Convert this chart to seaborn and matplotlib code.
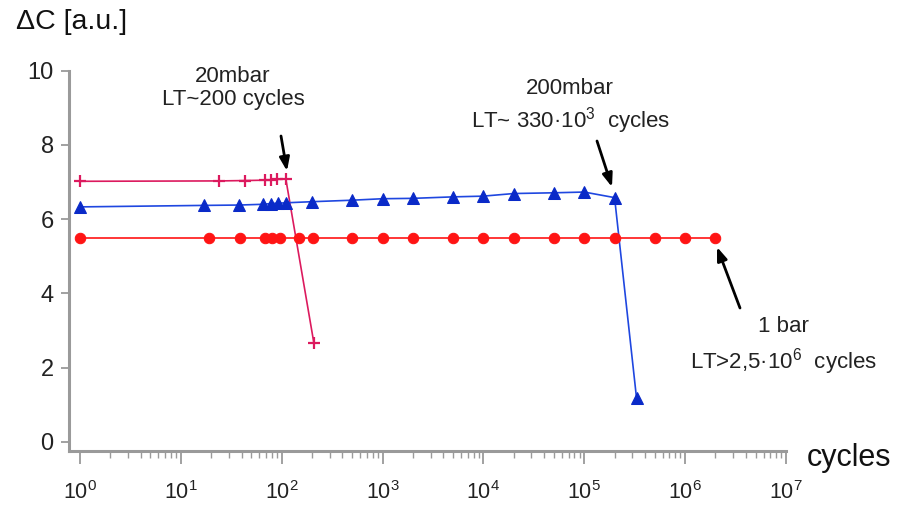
import numpy as np
import pandas as pd
import matplotlib
matplotlib.use("Agg")
import matplotlib.pyplot as plt
import seaborn as sns
from matplotlib.ticker import FixedLocator, LogFormatterSciNotation, NullFormatter

# Capacitance change vs. number of cycles at three pressures
cycles_20mbar = [1, 24, 43, 68, 78, 89, 110, 209]
dc_20mbar = [7.02, 7.03, 7.04, 7.05, 7.06, 7.07, 7.08, 2.65]

cycles_200mbar = [1, 17, 38, 65, 78, 92, 110, 200, 500, 1000, 2000, 5000,
                  1e4, 2e4, 5e4, 1e5, 2e5, 3.3e5]
dc_200mbar = [6.33, 6.37, 6.38, 6.40, 6.42, 6.43, 6.44, 6.47, 6.51, 6.55,
              6.56, 6.60, 6.62, 6.69, 6.71, 6.73, 6.58, 1.18]

cycles_1bar = [1, 19, 39, 68, 81, 96, 150, 206, 500, 1000, 2000, 5000,
               1e4, 2e4, 5e4, 1e5, 2e5, 5e5, 1e6, 2e6]
dc_1bar = [5.48] * len(cycles_1bar)

y_ticks = [0, 2, 4, 6, 8, 10]
x_decades = [0, 1, 2, 3, 4, 5, 6, 7]

sns.set_style("ticks")
plt.rcParams["font.family"] = ["Liberation Sans", "DejaVu Sans"]
plt.rcParams["mathtext.fontset"] = "custom"
plt.rcParams["mathtext.rm"] = "Liberation Sans"
plt.rcParams["mathtext.it"] = "Liberation Sans"

fig = plt.figure(figsize=(9.11, 5.09), dpi=100)
ax = fig.add_axes([0.0757, 0.114, 0.787, 0.747])

pink = "#dc1a5e"
blue = "#1f47e0"
red = "#ff1414"

sns.lineplot(x=cycles_20mbar, y=dc_20mbar, ax=ax, color=pink, marker="+",
             markersize=8, markeredgewidth=1.6, markeredgecolor=pink,
             linewidth=1.2, sort=False, estimator=None)
sns.lineplot(x=cycles_200mbar, y=dc_200mbar, ax=ax, color=blue, marker="^",
             markersize=8, markeredgecolor="#0a2ac8", markerfacecolor="#0a2ac8",
             linewidth=1.2, sort=False, estimator=None)
sns.lineplot(x=cycles_1bar, y=dc_1bar, ax=ax, color=red, marker="o",
             markersize=7.5, markeredgecolor=red, markerfacecolor=red,
             linewidth=1.2, sort=False, estimator=None)

ax.set_xscale("log")
ax.set_xlim(0.778, 1e7)
ax.set_ylim(-0.25, 10.0)
ax.set_yticks(y_ticks)
ax.set_yticklabels([str(v) for v in y_ticks])
ax.xaxis.set_major_locator(FixedLocator([10.0 ** d for d in x_decades]))
ax.xaxis.set_major_formatter(LogFormatterSciNotation())
minor = [m * 10.0 ** d for d in x_decades[:-1] for m in range(2, 10)]
ax.xaxis.set_minor_locator(FixedLocator(minor))
ax.xaxis.set_minor_formatter(NullFormatter())

spine_col = "#9a9a9a"
for side in ["top", "right"]:
    ax.spines[side].set_visible(False)
for side in ["left", "bottom"]:
    ax.spines[side].set_color(spine_col)
    ax.spines[side].set_linewidth(2.2)
ax.tick_params(axis="y", which="major", length=6, width=1.3, color=spine_col,
               labelsize=17, pad=5, labelcolor="#222222")
ax.tick_params(axis="x", which="major", length=9, width=1.3, color=spine_col,
               labelsize=15.5, pad=13, labelcolor="#222222")
ax.tick_params(axis="x", which="minor", length=5, width=1.0, color=spine_col)
ax.set_xlabel("")
ax.set_ylabel("")

# Axis titles
fig.text(16 / 911, 1 - 22 / 509, "ΔC [a.u.]", fontsize=20.5, va="center",
         ha="left", color="#111111")
fig.text(807 / 911, 1 - 458 / 509, "cycles", fontsize=22, va="center",
         ha="left", color="#111111")

# Lifetime annotations
txt_kw = dict(fontsize=16, ha="center", va="center", color="#222222")
fig.text(233 / 911, 1 - 76 / 509, "20mbar", **txt_kw)
fig.text(233 / 911, 1 - 100 / 509, "LT~200 cycles", **txt_kw)
fig.text(570 / 911, 1 - 88 / 509, "200mbar", **txt_kw)
fig.text(571 / 911, 1 - 121 / 509, r"LT~ 330·10$^{3}$  cycles", **txt_kw)
fig.text(783 / 911, 1 - 327 / 509, "1 bar", **txt_kw)
fig.text(783 / 911, 1 - 362 / 509, r"LT>2,5·10$^{6}$  cycles", **txt_kw)

arrow_kw = dict(arrowstyle="-|>,head_length=0.8,head_width=0.3", color="black",
                lw=2.0, shrinkA=0, shrinkB=0)


def fig_xy(px, py):
    return (px / 911, 1 - py / 509)


ax.annotate("", xy=fig_xy(287, 171), xytext=fig_xy(281, 136),
            xycoords="figure fraction", textcoords="figure fraction",
            arrowprops=arrow_kw)
ax.annotate("", xy=fig_xy(612, 187), xytext=fig_xy(597, 141),
            xycoords="figure fraction", textcoords="figure fraction",
            arrowprops=arrow_kw)
ax.annotate("", xy=fig_xy(717, 247), xytext=fig_xy(740, 308),
            xycoords="figure fraction", textcoords="figure fraction",
            arrowprops=arrow_kw)

fig.savefig("out.png", dpi=100)
